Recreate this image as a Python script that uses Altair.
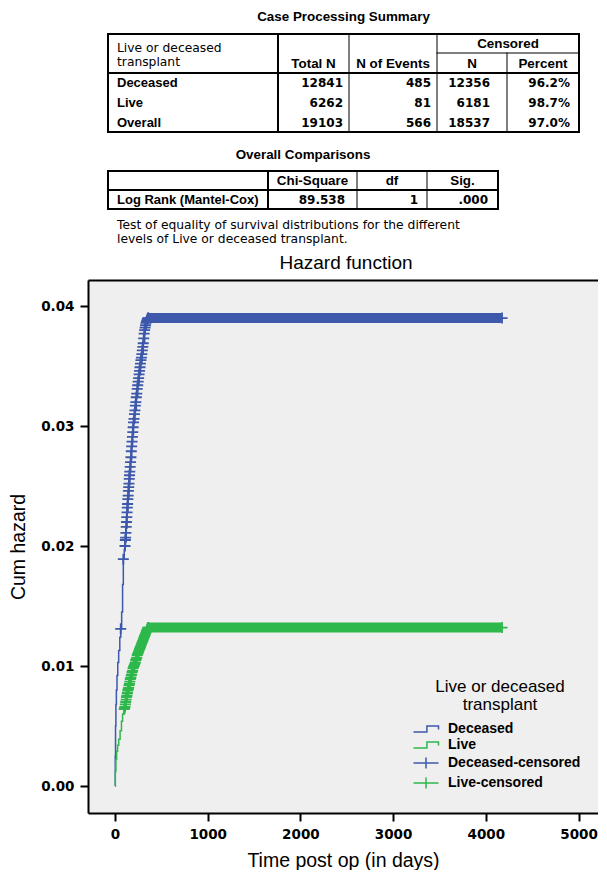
import altair as alt
import pandas as pd

# ---------------- data: tables ----------------
GROUPS = ["Deceased", "Live", "Overall"]
TOTAL_N = ["12841", "6262", "19103"]
N_EVENTS = ["485", "81", "566"]
CENSORED_N = ["12356", "6181", "18537"]
CENSORED_PCT = ["96.2%", "98.7%", "97.0%"]

T1_TITLE = "Case Processing Summary"
T1_HEAD = ["Total N", "N of Events", "N", "Percent"]
T1_GROUP_HEAD = ["Live or deceased", "transplant"]
T2_TITLE = "Overall Comparisons"
T2_HEAD = ["Chi-Square", "df", "Sig."]
T2_ROW = ["Log Rank (Mantel-Cox)", "89.538", "1", ".000"]
FOOTNOTE = ["Test of equality of survival distributions for the different",
            "levels of Live or deceased transplant."]

# ---------------- data: cumulative hazard ----------------
SERIES = ["Deceased", "Live", "Deceased-censored", "Live-censored"]

DEC_T = [0, 3, 6, 10, 15, 22, 30, 40, 52, 62, 72, 82, 90, 100, 110, 120, 130, 140,
         150, 160, 170, 180, 190, 200, 215, 230, 245, 260, 275, 290, 305, 320, 335,
         350, 365, 4170]
DEC_H = [0, 0.0025, 0.0050, 0.0068, 0.0080, 0.0092, 0.0103, 0.0113, 0.0124, 0.0131,
         0.0145, 0.0168, 0.0189, 0.0197, 0.0204, 0.0215, 0.0228, 0.0240, 0.0251,
         0.0262, 0.0272, 0.0283, 0.0293, 0.0303, 0.0313, 0.0324, 0.0334, 0.0343,
         0.0352, 0.0360, 0.0369, 0.0380, 0.0386, 0.0389, 0.0390, 0.0390]

LIVE_T = [0, 4, 10, 18, 28, 40, 55, 70, 82, 95, 108, 120, 132, 144, 158, 172, 186,
          200, 215, 230, 245, 260, 275, 290, 305, 320, 335, 350, 362, 4170]
LIVE_H = [0, 0.0012, 0.0022, 0.0029, 0.0034, 0.0039, 0.0046, 0.0054, 0.0060, 0.0063,
          0.0066, 0.0072, 0.0077, 0.0081, 0.0086, 0.0091, 0.0095, 0.0099, 0.0102,
          0.0106, 0.0110, 0.0113, 0.0116, 0.0119, 0.0122, 0.0125, 0.0128, 0.0131,
          0.0132, 0.0132]

# censored cases (time, cum hazard) on the rising part of each curve
DEC_CENSORED = [
    (62, .0131), (90, .0189), (108, .0200), (112, .0205), (115, .0207), (118, .0211),
    (121, .0216), (124, .0220), (127, .0224), (130, .0228), (133, .0232), (136, .0235),
    (139, .0239), (142, .0242), (145, .0246), (148, .0249), (151, .0252), (154, .0256),
    (157, .0259), (160, .0262), (164, .0266), (168, .0270), (172, .0274), (176, .0279),
    (180, .0283), (184, .0287), (188, .0291), (192, .0295), (196, .0299), (200, .0303),
    (205, .0306), (210, .0310), (215, .0313), (220, .0317), (225, .0320), (230, .0324),
    (235, .0327), (240, .0331), (245, .0334), (250, .0337), (255, .0340), (260, .0343),
    (265, .0346), (270, .0349), (275, .0352), (280, .0355), (285, .0357), (290, .0360),
    (295, .0363), (300, .0366), (305, .0369), (310, .0373), (315, .0377), (320, .0380),
    (325, .0382), (330, .0384), (335, .0386), (340, .0387), (345, .0388), (350, .0389),
    (355, .0390), (360, .0390), (4175, .0390),
]
LIVE_CENSORED = [
    (100, .0064), (104, .0065), (108, .0066), (112, .0068), (116, .0070), (120, .0072),
    (124, .0074), (128, .0075), (132, .0077), (136, .0078), (140, .0080), (144, .0081),
    (148, .0082), (152, .0084), (156, .0085), (160, .0087), (165, .0089), (170, .0090),
    (175, .0092), (180, .0093), (185, .0095), (190, .0096), (195, .0098), (200, .0099),
    (205, .0100), (210, .0101), (215, .0102), (220, .0103), (225, .0105), (230, .0106),
    (235, .0107), (240, .0109), (245, .0110), (250, .0111), (255, .0112), (260, .0113),
    (265, .0114), (270, .0115), (275, .0116), (280, .0117), (285, .0118), (290, .0119),
    (295, .0120), (300, .0121), (305, .0122), (310, .0123), (315, .0124), (320, .0125),
    (325, .0126), (330, .0127), (335, .0128), (340, .0129), (345, .0130), (350, .0131),
    (355, .0132), (360, .0132), (4175, .0132),
]

# plateau fully covered by censored cases: first time, last time, level
DEC_PLATEAU = [365, 4170, 0.0390]
LIVE_PLATEAU = [360, 4170, 0.0132]

X_TICKS = [0, 1000, 2000, 3000, 4000, 5000]
Y_TICKS = [0.00, 0.01, 0.02, 0.03, 0.04]

# ---------------- style / layout ----------------
BLUE = "#3E58AB"
GREEN = "#2EB84B"
COLORS = [BLUE, GREEN, BLUE, GREEN]
BG = "#EFEFEF"
STEP_PATH = "M-2.5,0.6H0.18V-0.6H2.5V0.12"
CROSS_LEG = "M-2.5,0H2.5M0,-1.1V1.1"
CROSS_PLOT = "M-1,0H1M0,-1V1"

PLOT_W, PLOT_H = 510, 533
TOP_H = 272
PAGE_X = [88, 598]   # page-pixel frame of the header block
PAGE_Y = [8, 280]

T1_X = [108, 278, 349, 437, 507, 579]
T1_Y = [34, 53, 73, 132]
T1_ROW_Y = [83, 103, 123]
T1_NUM_RIGHT = [343, 431, 490, 570]
T2_X = [108, 268, 357, 427, 498]
T2_Y = [171, 190, 209]
T2_ROW_Y = 200
T2_NUM_RIGHT = [345, 418, 488]
TEXT_LEFT = 117
PLOT_TITLE_X = 346

xs = alt.Scale(domain=PAGE_X, nice=False, zero=False)
ys = alt.Scale(domain=PAGE_Y, nice=False, zero=False, reverse=True)

# ---------------- header block (tables) ----------------
rules = []
# table 1
rules += [(T1_X[0], T1_X[-1], T1_Y[0], T1_Y[0], 2), (T1_X[0], T1_X[-1], T1_Y[-1], T1_Y[-1], 2),
          (T1_X[0], T1_X[0], T1_Y[0], T1_Y[-1], 2), (T1_X[-1], T1_X[-1], T1_Y[0], T1_Y[-1], 2),
          (T1_X[0], T1_X[-1], T1_Y[2], T1_Y[2], 2), (T1_X[1], T1_X[1], T1_Y[0], T1_Y[-1], 2),
          (T1_X[2], T1_X[2], T1_Y[0], T1_Y[-1], 1), (T1_X[3], T1_X[3], T1_Y[0], T1_Y[-1], 1),
          (T1_X[4], T1_X[4], T1_Y[1], T1_Y[-1], 1), (T1_X[3], T1_X[-1], T1_Y[1], T1_Y[1], 1)]
# table 2
rules += [(T2_X[0], T2_X[-1], T2_Y[0], T2_Y[0], 2), (T2_X[0], T2_X[-1], T2_Y[-1], T2_Y[-1], 2),
          (T2_X[0], T2_X[0], T2_Y[0], T2_Y[-1], 2), (T2_X[-1], T2_X[-1], T2_Y[0], T2_Y[-1], 2),
          (T2_X[0], T2_X[-1], T2_Y[1], T2_Y[1], 2), (T2_X[1], T2_X[1], T2_Y[0], T2_Y[-1], 2),
          (T2_X[2], T2_X[2], T2_Y[0], T2_Y[-1], 1), (T2_X[3], T2_X[3], T2_Y[0], T2_Y[-1], 1)]
rules_df = pd.DataFrame(rules, columns=["x", "x2", "y", "y2", "w"])

rule_layer = alt.Chart(rules_df).mark_rule(color="black", strokeCap="square").encode(
    x=alt.X("x:Q", scale=xs, axis=None), x2="x2:Q",
    y=alt.Y("y:Q", scale=ys, axis=None), y2="y2:Q",
    strokeWidth=alt.StrokeWidth("w:Q", scale=None, legend=None),
)


def text_layer(rows, align, font, size, weight="normal"):
    df = pd.DataFrame(rows, columns=["x", "y", "text"])
    return alt.Chart(df).mark_text(
        align=align, baseline="middle", font=font, fontSize=size,
        fontWeight=weight, color="black"
    ).encode(
        x=alt.X("x:Q", scale=xs, axis=None),
        y=alt.Y("y:Q", scale=ys, axis=None),
        text="text:N",
    )


t1_cx = [(T1_X[i] + T1_X[i + 1]) / 2 for i in range(len(T1_X) - 1)]
t2_cx = [(T2_X[i] + T2_X[i + 1]) / 2 for i in range(len(T2_X) - 1)]

left_regular = [(TEXT_LEFT, 48, T1_GROUP_HEAD[0]), (TEXT_LEFT, 62, T1_GROUP_HEAD[1]),
                (TEXT_LEFT, 225, FOOTNOTE[0]), (TEXT_LEFT, 239, FOOTNOTE[1])]
left_bold = [(TEXT_LEFT, T1_ROW_Y[i], g) for i, g in enumerate(GROUPS)]
left_bold += [(TEXT_LEFT, T2_ROW_Y, T2_ROW[0])]
center_bold = [((T1_X[0] + T1_X[-1]) / 2, 17, T1_TITLE),
               ((T2_X[0] + T2_X[-1]) / 2, 155, T2_TITLE),
               (t1_cx[1], 64, T1_HEAD[0]), (t1_cx[2], 64, T1_HEAD[1]),
               ((T1_X[3] + T1_X[5]) / 2, 44, "Censored"),
               (t1_cx[3], 64, T1_HEAD[2]), (t1_cx[4], 64, T1_HEAD[3]),
               (t2_cx[1], 181, T2_HEAD[0]), (t2_cx[2], 181, T2_HEAD[1]),
               (t2_cx[3], 181, T2_HEAD[2])]
right_num = []
for i in range(3):
    for col, vals in enumerate([TOTAL_N, N_EVENTS, CENSORED_N, CENSORED_PCT]):
        right_num.append((T1_NUM_RIGHT[col], T1_ROW_Y[i], vals[i]))
for col in range(3):
    right_num.append((T2_NUM_RIGHT[col], T2_ROW_Y, T2_ROW[col + 1]))

top = alt.layer(
    rule_layer,
    text_layer(left_regular, "left", "DejaVu Sans", 12.3),
    text_layer(left_bold, "left", "Liberation Sans", 13, "bold"),
    text_layer(center_bold, "center", "Liberation Sans", 13.4, "bold"),
    text_layer(right_num, "right", "DejaVu Sans", 12, "bold"),
    text_layer([(PLOT_TITLE_X, 263, "Hazard function")], "center", "Liberation Sans", 19),
).properties(width=PLOT_W, height=TOP_H, view=alt.ViewBackground(stroke=None))

# ---------------- hazard plot ----------------
lines_df = pd.concat([
    pd.DataFrame({"t": DEC_T, "h": DEC_H, "series": "Deceased"}),
    pd.DataFrame({"t": LIVE_T, "h": LIVE_H, "series": "Live"}),
])
dec_c = pd.DataFrame(DEC_CENSORED, columns=["t", "h"]).assign(series="Deceased-censored")
live_c = pd.DataFrame(LIVE_CENSORED, columns=["t", "h"]).assign(series="Live-censored")
cens_df = pd.concat([dec_c, live_c])
band_df = pd.DataFrame({
    "t": [DEC_PLATEAU[0], LIVE_PLATEAU[0]],
    "t2": [DEC_PLATEAU[1], LIVE_PLATEAU[1]],
    "h": [DEC_PLATEAU[2], LIVE_PLATEAU[2]],
    "series": ["Deceased-censored", "Live-censored"],
})

xp = alt.Scale(domain=[-291, 5210], nice=False, zero=False)
yp = alt.Scale(domain=[-0.00225, 0.04217], nice=False, zero=False)
cscale = alt.Scale(domain=SERIES, range=COLORS)
sscale = alt.Scale(domain=SERIES, range=[STEP_PATH, STEP_PATH, CROSS_LEG, CROSS_LEG])

x_axis = alt.Axis(values=X_TICKS, format="d", title="Time post op (in days)",
                  titleFont="Liberation Sans", titleFontSize=19.5, titleFontWeight="normal",
                  titleColor="black", titlePadding=11,
                  labelFont="DejaVu Sans", labelFontWeight="bold", labelFontSize=13.5,
                  labelColor="black", labelPadding=6, tickSize=8, tickWidth=2,
                  tickColor="black", domainColor="black", domainWidth=2, grid=False)
y_axis = alt.Axis(values=Y_TICKS, format=".2f", title="Cum hazard",
                  titleFont="Liberation Sans", titleFontSize=19.5, titleFontWeight="normal",
                  titleColor="black", titlePadding=12,
                  labelFont="DejaVu Sans", labelFontWeight="bold", labelFontSize=13.5,
                  labelColor="black", labelPadding=6, tickSize=8, tickWidth=2,
                  tickColor="black", domainColor="black", domainWidth=2, grid=False)
top_axis = alt.Axis(orient="top", labels=False, ticks=False, title=None,
                    domainColor="black", domainWidth=2, grid=False)

legend = alt.Legend(
    title=["Live or deceased", "transplant"], orient="none", legendX=331, legendY=399,
    titleFont="Liberation Sans", titleFontSize=17, titleFontWeight="normal",
    titleColor="black", titleAlign="center", titleAnchor="middle", titleLineHeight=18,
    titlePadding=8, labelFont="Liberation Sans", labelFontSize=14, labelFontWeight="bold",
    labelColor="black", symbolSize=100, symbolStrokeWidth=1.5, symbolOpacity=1,
    symbolFillColor="transparent", labelOffset=15, rowPadding=2, padding=0,
)

line_layer = alt.Chart(lines_df).mark_line(interpolate="step-after", strokeWidth=1.5).encode(
    x=alt.X("t:Q", scale=xp, axis=x_axis),
    y=alt.Y("h:Q", scale=yp, axis=y_axis),
    color=alt.Color("series:N", scale=cscale, legend=None),
)
band_layer = alt.Chart(band_df).mark_rule(strokeWidth=10, strokeCap="butt").encode(
    x=alt.X("t:Q", scale=xp, axis=None), x2="t2:Q",
    y=alt.Y("h:Q", scale=yp, axis=None),
    color=alt.Color("series:N", scale=cscale, legend=None),
)
cross_layer = alt.Chart(cens_df).mark_point(
    shape=CROSS_PLOT, size=121, filled=False, strokeWidth=1.8, opacity=1
).encode(
    x=alt.X("t:Q", scale=xp, axis=None),
    y=alt.Y("h:Q", scale=yp, axis=None),
    color=alt.Color("series:N", scale=cscale, legend=None),
)
legend_layer = alt.Chart(cens_df).transform_filter("false").mark_point(
    filled=False, strokeWidth=1.5, opacity=1
).encode(
    x=alt.X("t:Q", scale=xp, axis=top_axis),
    y=alt.Y("h:Q", scale=yp, axis=None),
    color=alt.Color("series:N", scale=cscale, legend=legend),
    shape=alt.Shape("series:N", scale=sscale, legend=legend),
)

plot = alt.layer(line_layer, band_layer, cross_layer, legend_layer).resolve_axis(
    x="independent", y="independent"
).resolve_legend(
    color="independent", shape="independent"
).properties(width=PLOT_W, height=PLOT_H,
             view=alt.ViewBackground(fill=BG, stroke=None))

chart = alt.vconcat(top, plot, spacing=0).properties(
    padding={"left": 0, "top": 0, "right": 0, "bottom": 0}
)

chart.save("out.html", embed_options={"renderer": "svg", "actions": False})
